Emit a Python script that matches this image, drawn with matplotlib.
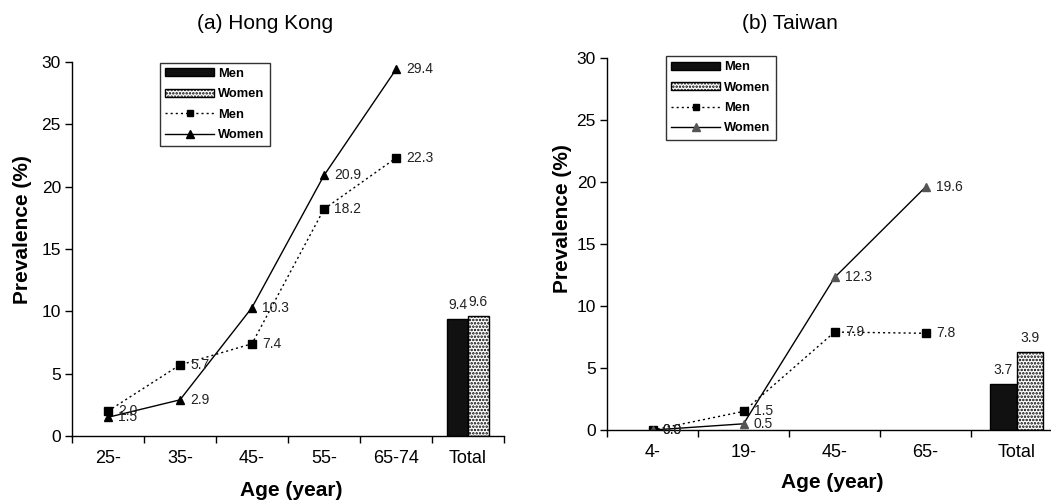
import numpy as np
from matplotlib import pyplot as plt
from matplotlib.patches import Patch
from matplotlib.lines import Line2D

plt.rcParams['font.family'] = ['Liberation Sans', 'DejaVu Sans']
plt.rcParams['hatch.linewidth'] = 1.2

# Hong Kong
hk_ages = ['25-', '35-', '45-', '55-', '65-74']
hk_men = [2.0, 5.7, 7.4, 18.2, 22.3]
hk_women = [1.5, 2.9, 10.3, 20.9, 29.4]
hk_total = [9.4, 9.6]
hk_total_labels = ['9.4', '9.6']

# Taiwan
tw_ages = ['4-', '19-', '45-', '65-']
tw_men = [0.0, 1.5, 7.9, 7.8]
tw_women = [0.0, 0.5, 12.3, 19.6]
tw_total = [3.7, 6.3]          # bar heights as drawn
tw_total_labels = ['3.7', '3.9']  # labels as printed


def panel(ax, ages, men, women, total, total_labels, tri_color):
    n = len(ages)
    x = np.arange(n)
    ax.plot(x, men, color='black', lw=1.0, ls=(0, (1.5, 2.2)),
            marker='s', ms=5.5, mfc='black', mec='black')
    ax.plot(x, women, color='black', lw=1.0, ls='-',
            marker='^', ms=6, mfc=tri_color, mec=tri_color)
    for xi, v in zip(x, men):
        ax.annotate(f'{v:.1f}', (xi, v), xytext=(7.5, 0), textcoords='offset points',
                    ha='left', va='center', fontsize=10, color='#222222')
    for xi, v in zip(x, women):
        ax.annotate(f'{v:.1f}', (xi, v), xytext=(7.5, 0), textcoords='offset points',
                    ha='left', va='center', fontsize=10, color='#222222')
    w = 0.29
    ax.bar(n - w / 2, total[0], width=w, color='#111111', edgecolor='black', lw=1)
    ax.bar(n + w / 2, total[1], width=w, color='white', edgecolor='black', lw=1, hatch='.....')
    for xb, v, lab in zip([n - w / 2, n + w / 2], total, total_labels):
        ax.annotate(lab, (xb, v), xytext=(0, 5), textcoords='offset points',
                    ha='center', va='bottom', fontsize=10, color='#222222')

    ax.set_xlim(-0.5, n + 0.5)
    ax.set_ylim(0, 30)
    ax.set_yticks([0, 5, 10, 15, 20, 25, 30])
    ax.set_xticks(np.arange(-0.5, n + 1, 1.0))
    ax.set_xticklabels([])
    ax.set_xticks(np.arange(n + 1), minor=True)
    ax.set_xticklabels(ages + ['Total'], minor=True)
    ax.tick_params(axis='x', which='minor', length=0, pad=10, labelsize=13)
    ax.tick_params(axis='x', which='major', length=5, width=1)
    ax.tick_params(axis='y', length=5, width=1, labelsize=12.5, pad=3)
    for s in ['top', 'right']:
        ax.spines[s].set_visible(False)
    for s in ['left', 'bottom']:
        ax.spines[s].set_linewidth(1)
    ax.spines['bottom'].set_bounds(-0.5, n + 0.5)

    handles = [
        Patch(facecolor='#111111', edgecolor='black', label='Men'),
        Patch(facecolor='white', edgecolor='black', hatch='.....', label='Women'),
        Line2D([], [], color='black', lw=1.0, ls=(0, (1.5, 2.2)), marker='s', ms=5, label='Men'),
        Line2D([], [], color='black', lw=1.0, marker='^', ms=5.5, mfc=tri_color, mec=tri_color, label='Women'),
    ]
    return handles


fig = plt.figure(figsize=(10.51, 5.0), dpi=100)
ax1 = fig.add_axes([0.0685, 0.128, 0.411, 0.748])
ax2 = fig.add_axes([0.5776, 0.14, 0.433, 0.744])

h1 = panel(ax1, hk_ages, hk_men, hk_women, hk_total, hk_total_labels, 'black')
h2 = panel(ax2, tw_ages, tw_men, tw_women, tw_total, tw_total_labels, '#555555')

leg_kw = dict(prop={'weight': 'bold', 'size': 9.3}, frameon=True, fancybox=False,
              edgecolor='black', handlelength=3.8, handleheight=0.55, labelspacing=0.65,
              borderpad=0.4, handletextpad=0.3, borderaxespad=0)
l1 = ax1.legend(handles=h1, loc='upper left', bbox_to_anchor=(0.204, 0.998), **leg_kw)
l2 = ax2.legend(handles=h2, loc='upper left', bbox_to_anchor=(0.13, 1.005), **leg_kw)
for l in (l1, l2):
    l.get_frame().set_linewidth(1)

fig.text(0.021, 0.54, 'Prevalence (%)', rotation=90, ha='center', va='center',
         fontsize=15, fontweight='bold')
fig.text(0.535, 0.563, 'Prevalence (%)', rotation=90, ha='center', va='center',
         fontsize=15, fontweight='bold')
fig.text(0.277, 0.02, 'Age (year)', ha='center', va='center', fontsize=15, fontweight='bold')
fig.text(0.792, 0.034, 'Age (year)', ha='center', va='center', fontsize=15, fontweight='bold')

fig.text(0.252, 0.953, '(a) Hong Kong', ha='center', va='center', fontsize=15)
fig.text(0.752, 0.953, '(b) Taiwan', ha='center', va='center', fontsize=15)

fig.savefig('out.png', dpi=100)
